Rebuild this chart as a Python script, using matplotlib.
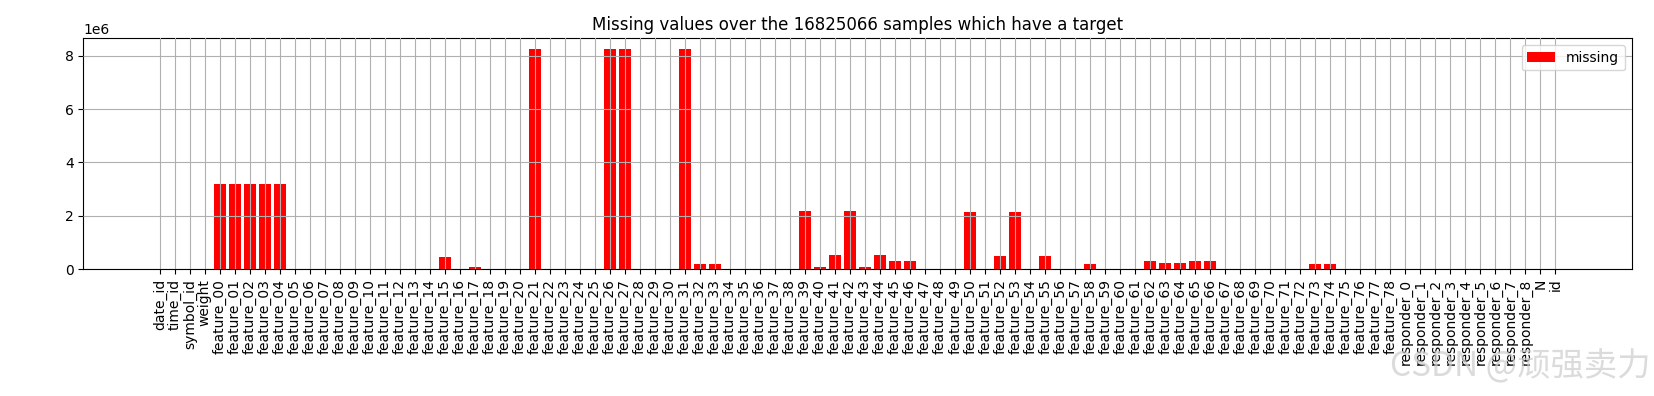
import matplotlib
matplotlib.use('Agg')
import matplotlib.pyplot as plt

columns = (['date_id', 'time_id', 'symbol_id', 'weight']
           + ['feature_%02d' % i for i in range(79)]
           + ['responder_%d' % i for i in range(9)]
           + ['N', 'id'])

# missing counts (non-zero ones only)
nonzero = {
    'feature_00': 3182052, 'feature_01': 3182052, 'feature_02': 3182052,
    'feature_03': 3182052, 'feature_04': 3182052,
    'feature_15': 460000, 'feature_17': 87000,
    'feature_21': 8240000, 'feature_26': 8240000, 'feature_27': 8240000,
    'feature_31': 8240000,
    'feature_32': 200000, 'feature_33': 200000,
    'feature_39': 2180000, 'feature_40': 87000, 'feature_41': 540000,
    'feature_42': 2180000, 'feature_43': 87000, 'feature_44': 540000,
    'feature_45': 310000, 'feature_46': 310000,
    'feature_50': 2150000, 'feature_52': 500000, 'feature_53': 2150000,
    'feature_55': 500000, 'feature_58': 200000,
    'feature_62': 310000, 'feature_63': 240000, 'feature_64': 240000,
    'feature_65': 310000, 'feature_66': 310000,
    'feature_73': 200000, 'feature_74': 200000,
}
missing = [nonzero.get(c, 0) for c in columns]

fig = plt.figure(figsize=(16.54, 3.96), dpi=100)
ax = fig.add_axes([0.0504, 0.3207, 0.9361, 0.5826])
ax.bar(columns, missing, color='red', label='missing')
ax.set_title('Missing values over the 16825066 samples which have a target')
ax.tick_params(axis='x', rotation=90)
ax.grid(True)
ax.set_axisbelow(False)
ax.legend(loc='upper right')

# watermark
fig.text(0.998, 0.03, 'CSDN @顽强卖力', ha='right', va='bottom', fontsize=24,
         color='#cccccc', alpha=0.7, family=['Noto Sans CJK SC', 'DejaVu Sans'])

fig.savefig('out.png', dpi=100)
